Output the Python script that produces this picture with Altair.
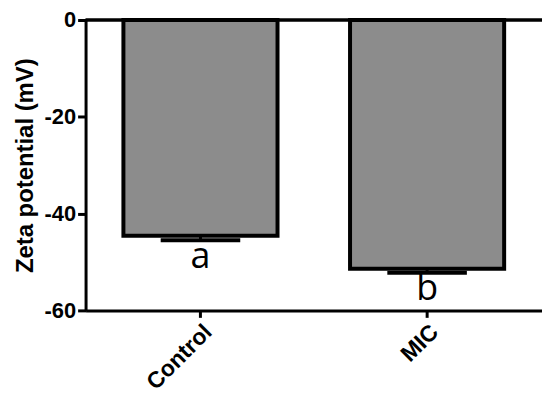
import altair as alt
import pandas as pd

groups = ["Control", "MIC"]
means = [-44.6, -51.4]
errors = [0.9, 0.8]
letters = ["a", "b"]

df = pd.DataFrame({
    "group": groups,
    "mean": means,
    "err": errors,
    "letter": letters,
})
df["low"] = df["mean"] - df["err"]

x = alt.X(
    "group:N",
    sort=groups,
    scale=alt.Scale(paddingInner=0.32, paddingOuter=0.167),
    axis=alt.Axis(
        title=None, labelAngle=-45, labelFont="Liberation Sans", labelFontWeight="bold",
        labelFontSize=23, labelColor="black", domainColor="black", domainWidth=3,
        tickColor="black", tickWidth=3, tickSize=7, labelPadding=3,
    ),
)

yscale = alt.Scale(domain=[-60, 0], nice=False, zero=False)

bars = alt.Chart(df).mark_bar(
    fill="#8c8c8c", stroke="black", strokeWidth=4
).encode(
    x=x,
    y=alt.Y(
        "mean:Q", scale=yscale,
        axis=alt.Axis(
            title="Zeta potential (mV)", values=[0, -20, -40, -60], grid=False,
            labelExpr="datum.value",
            labelFont="Liberation Sans", labelFontWeight="bold", labelFontSize=22,
            labelColor="black", titleFont="Liberation Sans", titleFontWeight="bold",
            titleFontSize=24, titleColor="black", titlePadding=7,
            domainColor="black", domainWidth=3, tickColor="black", tickWidth=3,
            tickSize=8, labelPadding=2,
        ),
    ),
    y2=alt.datum(0),
)

err_rule = alt.Chart(df).mark_rule(color="black", strokeWidth=3, opacity=1).encode(
    x=x, y=alt.Y("mean:Q", scale=yscale), y2="low:Q"
)

caps = alt.Chart(df).mark_tick(
    color="black", thickness=4, size=80, orient="horizontal", opacity=1
).encode(x=x, y=alt.Y("low:Q", scale=yscale))

labels = alt.Chart(df).mark_text(
    font="Open Sans", fontSize=36, color="black", baseline="alphabetic", dy=28
).encode(x=x, y=alt.Y("low:Q", scale=yscale), text="letter:N")

zero_line = alt.Chart(df).mark_rule(color="black", strokeWidth=3).encode(
    y=alt.Y(datum=0, scale=yscale)
)

chart = alt.layer(bars, err_rule, caps, labels, zero_line).properties(
    width=459,
    height=292,
    autosize=alt.AutoSizeParams(type="none"),
    padding={"left": 78, "top": 11, "right": 0, "bottom": 84},
).configure_view(stroke=None).configure(background="white")

chart.save("out.html", embed_options={"renderer": "svg", "actions": False})
